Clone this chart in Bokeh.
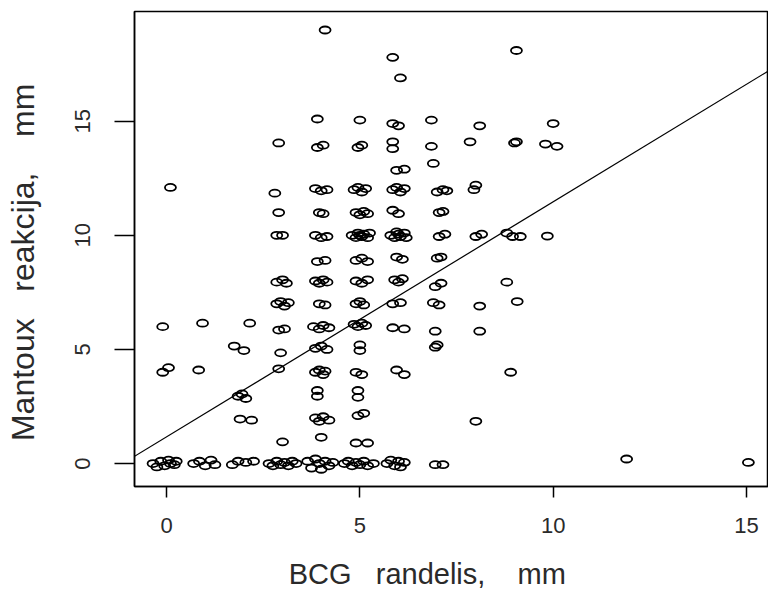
from bokeh.plotting import figure
from bokeh.models import Range1d, FixedTicker, Slope
from bokeh.embed import file_html
from bokeh.resources import INLINE

# BCG scar size (mm, jittered) and Mantoux reaction (mm, jittered)
bcg = [
    -0.35, -0.25, -0.15, -0.05, 0.05, 0.1, 0.2, 0.25, -0.1, 0.05, -0.1, 0.1,
    0.7, 0.85, 1.0, 1.15, 1.25, 0.83, 0.93,
    1.7, 1.85, 2.05, 2.25, 1.9, 2.2, 1.85, 1.95, 2.05, 1.75, 2.0, 2.15,
    2.65, 2.75, 2.85, 2.95, 3.05, 3.15, 3.25, 3.35, 3.0, 2.9, 2.95, 2.9, 3.05,
    2.85, 2.95, 3.05, 3.15, 2.85, 3.0, 3.1, 2.85, 3.0, 2.9, 2.8, 2.9,
    3.65, 3.75, 3.85, 3.95, 4.0, 4.1, 4.2, 4.3, 4.0, 3.85, 3.95, 4.05, 4.2,
    3.9, 3.9, 3.85, 3.95, 4.05, 4.1, 3.85, 4.0, 4.15, 3.8, 3.95, 4.05, 4.2,
    3.95, 4.1, 3.85, 3.95, 4.05, 4.15, 3.9, 4.1, 3.85, 4.0, 4.15, 3.95, 4.05,
    3.85, 4.0, 4.15, 3.9, 4.05, 3.9, 4.1,
    4.6, 4.7, 4.8, 4.9, 5.0, 5.1, 5.2, 5.35, 4.9, 5.2, 4.95, 5.1, 4.95, 4.95,
    4.9, 5.05, 5.0, 5.0, 4.85, 4.95, 5.05, 5.15, 4.9, 5.0, 5.1, 4.9, 5.05, 5.2,
    4.9, 5.05, 5.2, 4.8, 4.9, 4.95, 5.05, 5.1, 5.2, 5.25, 5.0,
    4.9, 5.0, 5.1, 5.2, 4.85, 4.95, 5.05, 5.15, 4.95, 5.05, 5.0,
    5.7, 5.8, 5.9, 6.0, 6.05, 6.15, 5.95, 6.15, 5.85, 6.15, 5.85, 6.05,
    5.9, 6.0, 6.1, 5.95, 6.1, 5.8, 5.9, 6.0, 6.05, 6.15, 6.2, 5.95,
    5.85, 6.0, 5.85, 5.95, 6.05, 6.15, 5.95, 6.15, 5.85, 5.85, 5.85, 6.0,
    6.05, 5.85,
    6.95, 7.15, 6.95, 7.0, 6.95, 6.9, 7.05, 6.95, 7.1, 7.0, 7.1, 7.05, 7.2,
    7.05, 7.15, 7.0, 7.15, 7.25, 6.9, 6.85, 6.85,
    7.85, 8.1, 7.95, 8.0, 8.0, 8.15, 8.1, 8.1, 8.0,
    9.05, 9.0, 9.05, 8.8, 8.95, 9.15, 8.8, 9.07, 8.9,
    10.0, 9.8, 10.1, 9.85,
    11.9, 15.05,
]
mantoux = [
    0.0, -0.15, 0.1, -0.1, 0.15, 0.0, -0.05, 0.1, 4.0, 4.2, 6.0, 12.1,
    0.0, 0.1, -0.1, 0.15, -0.05, 4.1, 6.15,
    -0.05, 0.1, 0.05, 0.1, 1.95, 1.9, 2.95, 3.05, 2.85, 5.15, 4.95, 6.15,
    0.0, -0.1, 0.1, -0.05, 0.05, -0.1, 0.1, 0.0, 0.95, 4.15, 4.85, 5.85, 5.9,
    7.0, 7.1, 6.9, 7.05, 7.95, 8.05, 7.9, 10.0, 10.0, 11.0, 11.85, 14.05,
    0.1, -0.2, 0.2, 0.0, -0.25, 0.1, -0.1, 0.05, 1.15, 2.0, 1.85, 2.05, 1.9,
    3.2, 2.95, 4.0, 4.1, 3.9, 4.05, 5.05, 5.15, 5.0, 6.0, 5.9, 6.05, 5.95,
    7.0, 6.95, 8.0, 7.9, 8.05, 7.95, 8.85, 8.9, 10.0, 9.9, 9.95, 11.0, 10.95,
    12.05, 11.95, 12.0, 13.85, 13.95, 15.1, 19.0,
    0.0, 0.1, -0.1, 0.05, -0.05, 0.1, -0.1, 0.0, 0.9, 0.9, 2.1, 2.2, 3.2, 2.9,
    4.0, 3.9, 5.2, 4.95, 6.1, 6.0, 6.15, 6.05, 7.0, 7.1, 6.95, 8.0, 7.9, 8.05,
    8.9, 9.0, 8.85, 10.0, 9.9, 10.1, 9.95, 10.05, 9.9, 10.1, 10.0,
    11.0, 10.9, 11.05, 10.95, 12.0, 12.1, 11.9, 12.05, 13.85, 13.95, 15.05,
    0.0, 0.15, -0.1, 0.1, -0.15, 0.05, 4.1, 3.9, 5.95, 5.9, 7.0, 7.05,
    8.05, 7.95, 8.1, 9.05, 8.95, 10.0, 9.9, 10.05, 9.95, 10.1, 9.9, 10.15,
    11.1, 10.95, 12.0, 12.1, 11.9, 12.05, 12.85, 12.9, 13.8, 14.1, 14.9, 14.8,
    16.9, 17.8,
    -0.05, -0.05, 5.1, 5.2, 5.8, 7.05, 6.95, 7.75, 7.9, 9.0, 9.05, 9.95, 10.05,
    11.0, 11.05, 11.9, 12.0, 11.95, 13.15, 13.9, 15.05,
    14.1, 14.8, 12.0, 12.2, 9.95, 10.05, 6.9, 5.8, 1.85,
    18.1, 14.05, 14.1, 10.1, 9.95, 9.95, 7.95, 7.1, 4.0,
    14.9, 14.0, 13.9, 9.97,
    0.2, 0.05,
]

# least-squares line as drawn in the picture
fit_intercept = 1.17
fit_slope = 1.03

tick_values = [0, 5, 10, 15]
NB = "\u00a0"
x_label = "BCG" + NB * 3 + "randelis," + NB * 4 + "mm" + NB * 6
y_label = "Mantoux" + NB * 3 + "reakcija," + NB * 4 + "mm" + NB * 3

FONT = "Liberation Sans"
TXT = "#2a2a2a"

p = figure(width=768, height=592, output_backend="svg", toolbar_location=None,
           x_range=Range1d(-0.83, 15.57), y_range=Range1d(-1.006, 19.81),
           min_border_left=134, min_border_right=0, min_border_top=11,
           min_border_bottom=105)
p.background_fill_color = "white"
p.border_fill_color = "white"
p.outline_line_color = "black"
p.outline_line_width = 1.5
p.xgrid.visible = False
p.ygrid.visible = False

p.ellipse(x=bcg, y=mantoux, width=11, height=7, width_units="screen",
          height_units="screen", fill_color=None, line_color="black",
          line_width=1.8)
p.add_layout(Slope(gradient=fit_slope, y_intercept=fit_intercept,
                   line_color="black", line_width=1.2))

for ax in (p.xaxis[0], p.yaxis[0]):
    ax.ticker = FixedTicker(ticks=tick_values)
    ax.minor_tick_line_color = None
    ax.major_tick_in = 0
    ax.axis_line_color = "black"
    ax.axis_line_width = 1.5
    ax.major_tick_line_color = "black"
    ax.major_tick_line_width = 1.5
    ax.major_label_text_font = FONT
    ax.major_label_text_font_size = "22px"
    ax.major_label_text_color = TXT
    ax.axis_label_text_font = FONT
    ax.axis_label_text_font_style = "normal"
    ax.axis_label_text_color = TXT

p.xaxis.axis_label = x_label
p.xaxis.major_tick_out = 11
p.xaxis.major_label_standoff = 20
p.xaxis.axis_label_standoff = 22
p.xaxis.axis_label_text_font_size = "29px"

p.yaxis.axis_label = y_label
p.yaxis.major_tick_out = 20
p.yaxis.major_label_standoff = 24
p.yaxis.major_label_orientation = "vertical"
p.yaxis.axis_label_standoff = 32
p.yaxis.axis_label_text_font_size = "32px"

open("out.html", "w").write(file_html(p, INLINE))
